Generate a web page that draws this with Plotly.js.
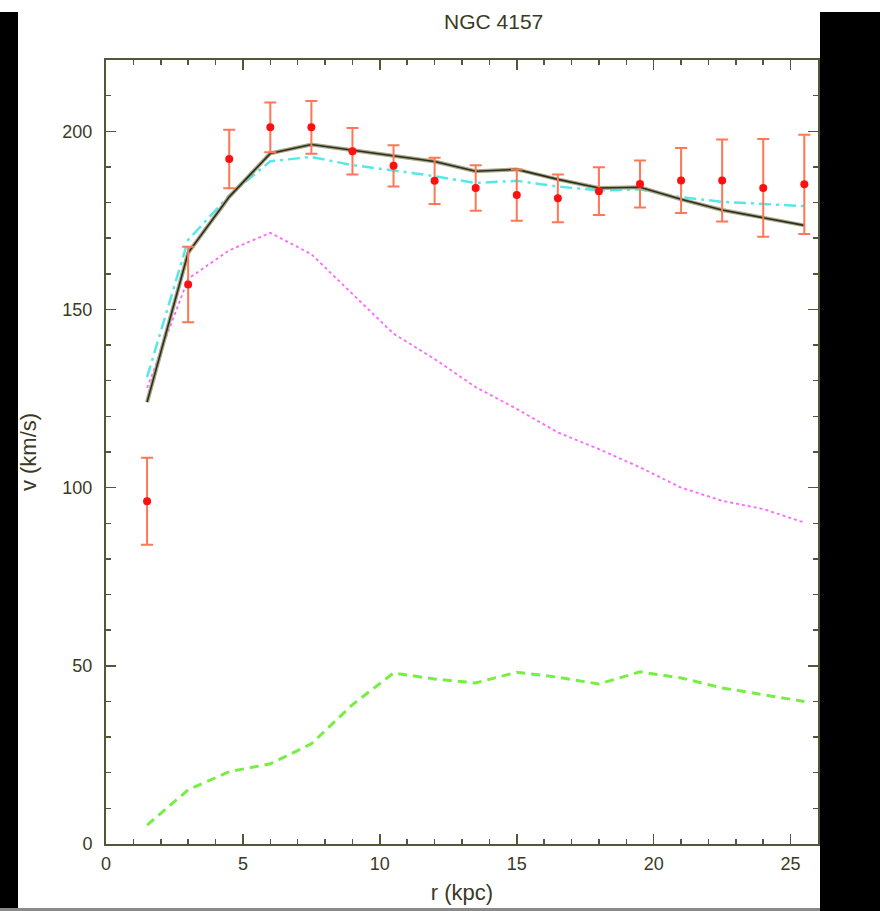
<!DOCTYPE html>
<html>
<head>
<meta charset="utf-8">
<script src="https://cdn.plot.ly/plotly-3.0.1.min.js"></script>
<style>
  html, body { margin:0; padding:0; background:#000; }
  #wrap { position:relative; width:880px; height:911px; background:#000; overflow:hidden; }
  #topstrip { position:absolute; left:0; top:0; width:880px; height:12px; background:#fff; }
  #white { position:absolute; left:18px; top:12px; width:802px; height:896px; background:#fff; }
  #bottomline { position:absolute; left:0; top:908px; width:820px; height:3px; background:#8a8a8a; }
  #chart { position:absolute; left:0; top:0; width:880px; height:911px; }
</style>
</head>
<body>
<div id="wrap">
  <div id="topstrip"></div>
  <div id="white"></div>
  <div id="bottomline"></div>
  <div id="chart"></div>
</div>
<script>
// radii (kpc)
const radius = [1.5, 3, 4.5, 6, 7.5, 9, 10.5, 12, 13.5, 15, 16.5, 18, 19.5, 21, 22.5, 24, 25.5];
// observed rotation velocity (km/s) and errors
const vObs = [96.2, 157, 192.2, 201.1, 201.1, 194.4, 190.3, 186.1, 184.1, 182.1, 181.2, 183.2, 185.2, 186.2, 186.2, 184.1, 185.1];
const vErr = [12.2, 10.6, 8.2, 7, 7.4, 6.5, 5.8, 6.5, 6.4, 7.2, 6.7, 6.7, 6.6, 9.1, 11.5, 13.7, 13.9];
// model curves
const vTotal = [124, 165.9, 181.6, 193.8, 196.3, 194.7, 193.3, 191.5, 188.8, 189.3, 186.5, 184.1, 184.3, 180.9, 177.9, 175.8, 173.6];
const vCyan  = [131, 169.5, 182, 191.6, 192.8, 190.5, 189, 187.4, 185.5, 186.1, 184.5, 183.4, 183.7, 181.5, 180.2, 179.7, 179];
const vMagenta = [128, 158.6, 166.6, 171.5, 165.5, 154.4, 143.2, 136.1, 128.2, 122.1, 115.5, 110.8, 105.7, 100, 96.3, 94, 90.2];
const vGreen = [5.3, 15.2, 20.3, 22.5, 28.1, 39.1, 48, 46.3, 45.2, 48.2, 46.8, 44.9, 48.3, 46.6, 43.8, 41.9, 40];

const chartTitle = 'NGC 4157';
const xTitle = 'r (kpc)';
const yTitle = 'v (km/s)';

const axisCol = '#55553a';
const textCol = '#3a3a24';

const traces = [
  { x: radius, y: vGreen, mode: 'lines', line: { color: '#77ee44', width: 3, dash: '9px,6px' }, hoverinfo: 'skip' },
  { x: radius, y: vMagenta, mode: 'lines', line: { color: '#ff66ff', width: 1.8, dash: 'dot' }, hoverinfo: 'skip' },
  { x: radius, y: vCyan, mode: 'lines', line: { color: '#55e8e8', width: 2.5, dash: '12px,5px,3px,5px' }, hoverinfo: 'skip' },
  { x: radius, y: vTotal, mode: 'lines', line: { color: '#a9a98a', width: 4 }, hoverinfo: 'skip' },
  { x: radius, y: vTotal, mode: 'lines', line: { color: '#2e2e1e', width: 1.6 }, hoverinfo: 'skip' },
  { x: radius, y: vObs, mode: 'markers',
    marker: { color: '#ff1010', size: 8 },
    error_y: { type: 'data', array: vErr, visible: true, color: '#ff7755', thickness: 2, width: 6 } }
];

const layout = {
  width: 880, height: 911,
  paper_bgcolor: 'rgba(0,0,0,0)',
  plot_bgcolor: '#ffffff',
  showlegend: false,
  margin: { l: 106, r: 62, t: 60, b: 67 },
  font: { family: 'Liberation Sans, Arial, sans-serif', color: textCol, size: 18 },
  title: { text: chartTitle, x: 0.561, xref: 'container', xanchor: 'center', y: 0.976, yref: 'container', yanchor: 'middle',
           font: { size: 21, color: textCol } },
  xaxis: {
    range: [0, 26], tick0: 0, dtick: 5, ticks: 'inside', ticklen: 10, tickwidth: 1.5, tickcolor: axisCol,
    minor: { dtick: 1, ticks: 'inside', ticklen: 5, tickwidth: 1.5, tickcolor: axisCol },
    showline: true, linecolor: axisCol, linewidth: 2, mirror: 'allticks', showgrid: false, zeroline: false,
    tickfont: { size: 18, color: textCol }, ticklabelstandoff: 2,
    title: { text: xTitle, font: { size: 22, color: textCol }, standoff: 12 }
  },
  yaxis: {
    range: [0, 220], tick0: 0, dtick: 50, ticks: 'inside', ticklen: 10, tickwidth: 1.5, tickcolor: axisCol,
    minor: { dtick: 10, ticks: 'inside', ticklen: 5, tickwidth: 1.5, tickcolor: axisCol },
    showline: true, linecolor: axisCol, linewidth: 2, mirror: 'allticks', showgrid: false, zeroline: false,
    tickfont: { size: 18, color: textCol }, ticklabelstandoff: 8,
    title: { text: yTitle, font: { size: 22, color: textCol }, standoff: 20 }
  }
};

Plotly.newPlot('chart', traces, layout, { staticPlot: true, displayModeBar: false });
</script>
</body>
</html>
